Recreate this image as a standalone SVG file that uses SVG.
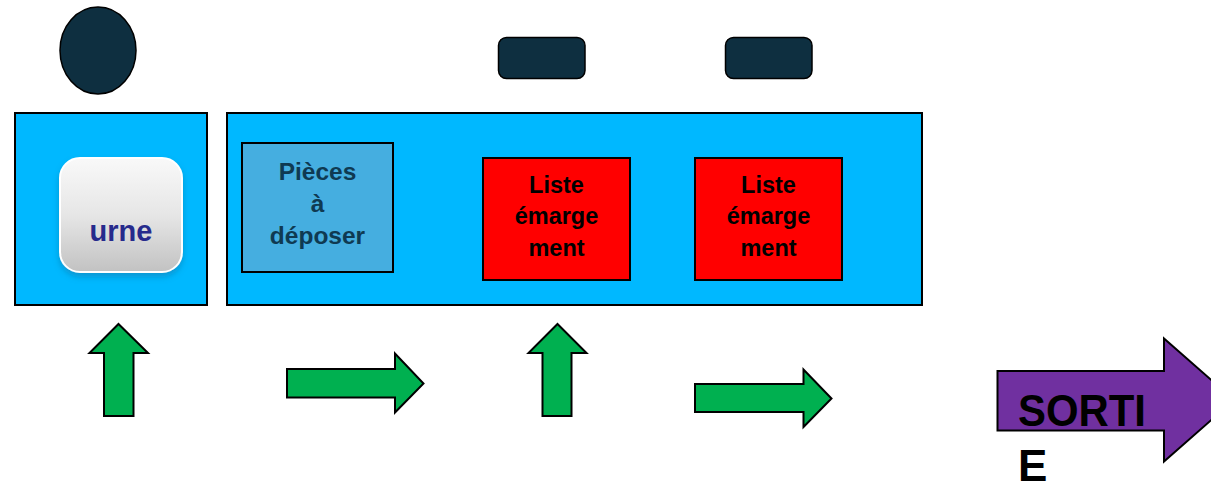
<svg xmlns="http://www.w3.org/2000/svg" width="1211" height="482" viewBox="0 0 1211 482">
<defs>
<linearGradient id="urneGrad" x1="0" y1="0" x2="0" y2="1">
<stop offset="0" stop-color="#f9f9f9"/>
<stop offset="0.5" stop-color="#e6e6e6"/>
<stop offset="1" stop-color="#c2c2c2"/>
</linearGradient>
<filter id="shadow" x="-20%" y="-20%" width="140%" height="150%">
<feDropShadow dx="0" dy="4" stdDeviation="3" flood-color="#1a6f9a" flood-opacity="0.45"/>
</filter>
</defs>
<style>
.head{fill:#0e2f40;stroke:#000;stroke-width:1.5}
.zone{fill:#00b8ff;stroke:#000;stroke-width:2}
.red{fill:#ff0000;stroke:#000;stroke-width:2}
.green{fill:#00b050;stroke:#000;stroke-width:2;stroke-linejoin:miter}
.purple{fill:#7030a0;stroke:#000;stroke-width:2}
.lbl{font-family:"Liberation Sans",Arial,sans-serif;font-weight:bold;text-anchor:middle}
</style>
<rect width="1211" height="482" fill="#ffffff"/>

<g id="person">
<ellipse class="head" cx="98" cy="50.5" rx="38" ry="43.5"/>
</g>
<g id="desk1">
<rect class="head" x="498.5" y="37.5" width="86.5" height="41" rx="8"/>
</g>
<g id="desk2">
<rect class="head" x="725.5" y="37.5" width="86.5" height="41" rx="8"/>
</g>

<g id="zone-urne">
<rect class="zone" x="15" y="113" width="192" height="192"/>
</g>
<g id="urne">
<rect x="60" y="158" width="122" height="114" rx="20" fill="url(#urneGrad)" stroke="#ffffff" stroke-width="2" filter="url(#shadow)"/>
<text class="lbl" x="121" y="241" font-size="29" fill="#262a8c">urne</text>
</g>

<g id="zone-main">
<rect class="zone" x="227" y="113" width="695" height="192"/>
</g>
<g id="pieces">
<rect x="242" y="143" width="151" height="129" fill="#45aee0" stroke="#000" stroke-width="2"/>
<text class="lbl" font-size="24.5" fill="#0f3a52"><tspan x="317.5" y="180">Pièces</tspan><tspan x="317.5" y="212">à</tspan><tspan x="317.5" y="243.5">déposer</tspan></text>
</g>
<g id="liste1">
<rect class="red" x="483" y="158" width="147" height="122"/>
<text class="lbl" font-size="23.5" fill="#000"><tspan x="556.5" y="192.5">Liste</tspan><tspan x="556.5" y="224">émarge</tspan><tspan x="556.5" y="256">ment</tspan></text>
</g>
<g id="liste2">
<rect class="red" x="695" y="158" width="147" height="122"/>
<text class="lbl" font-size="23.5" fill="#000"><tspan x="768.5" y="192.5">Liste</tspan><tspan x="768.5" y="224">émarge</tspan><tspan x="768.5" y="256">ment</tspan></text>
</g>

<g id="connectors">
<polygon class="green" points="118.5,324 148,353 133.5,353 133.5,416 104,416 104,353 89.5,353"/>
<polygon class="green" points="287,369 395,369 395,353.5 423.5,383.5 395,412.5 395,397.5 287,397.5"/>
<polygon class="green" points="557.5,324 586.5,353 571.5,353 571.5,416 542.5,416 542.5,353 528.5,353"/>
<polygon class="green" points="695,384 803.5,384 803.5,369.5 831.5,398.5 803.5,427 803.5,412 695,412"/>
</g>

<g id="sortie">
<polygon class="purple" points="997.5,371 1164,371 1164,338.5 1234,400 1164,461.5 1164,430.5 997.5,430.5"/>
<text font-family="'Liberation Sans',Arial,sans-serif" font-weight="bold" font-size="44" fill="#000"><tspan x="1018" y="425.5" textLength="128" lengthAdjust="spacingAndGlyphs">SORTI</tspan><tspan x="1018" y="480.5">E</tspan></text>
</g>
</svg>
